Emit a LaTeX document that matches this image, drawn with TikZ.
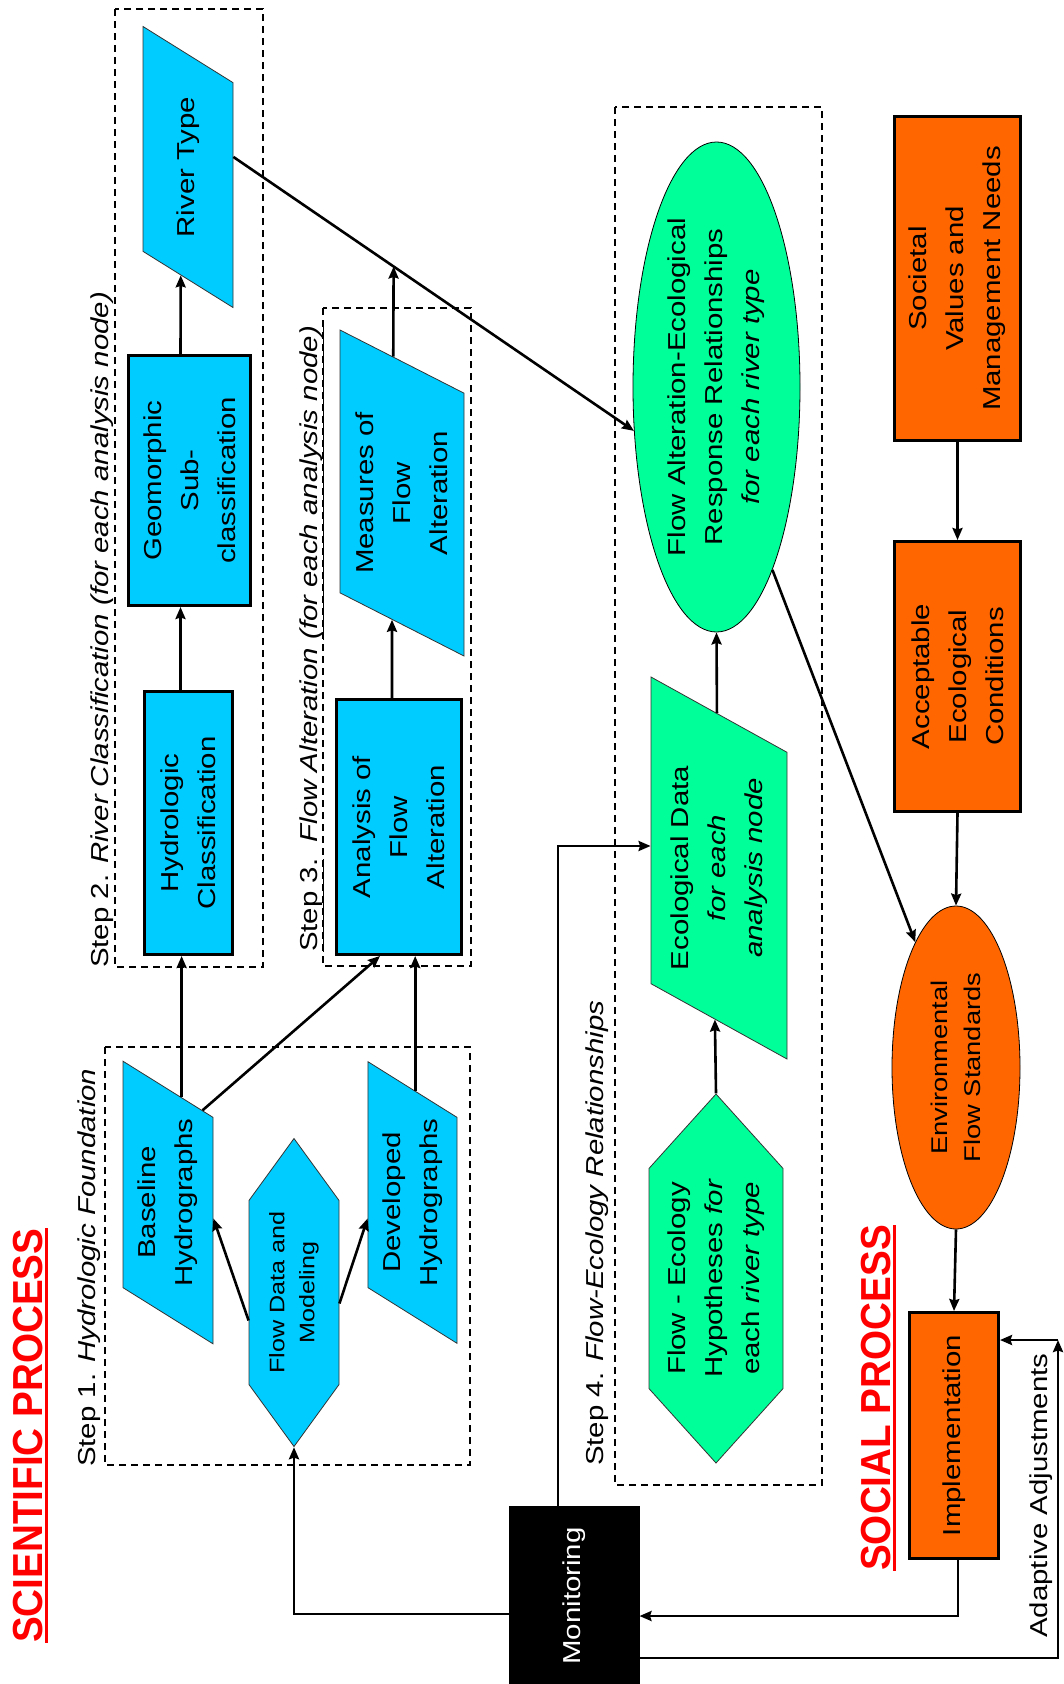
\documentclass[tikz,border=0pt]{standalone}
\usepackage{fontspec}
\setmainfont{Liberation Sans}[FakeStretch=1.2]
\newfontfamily\headfont{Liberation Sans}[FakeStretch=0.92]
\usepackage{xcolor}
\usepackage{tikz}
\usetikzlibrary{shapes.geometric, shapes.symbols, arrows, arrows.meta, positioning, calc}

\definecolor{skyblue}{RGB}{0,204,255}
\definecolor{springgreen}{RGB}{0,255,153}
\definecolor{socialorange}{RGB}{255,102,0}

% thick underline for the two process titles
\newcommand\headunderline[1]{\vtop{\hbox{#1}\kern2.5pt\hrule height 3pt}}

\begin{document}
\begin{tikzpicture}[x=1pt, y=-1pt, font=\fontsize{24.5}{37}\selectfont]
	\tikzstyle{box} = [rectangle, rotate=90, align=center, draw=black, line width=3pt, inner sep=2pt]
	\tikzstyle{hydrobox} = [box, fill=skyblue]
	\tikzstyle{socialbox} = [box, fill=socialorange]
	\tikzstyle{slanted} = [trapezium, rotate=90, align=center, draw=black!80, line width=0.8pt, trapezium stretches body, inner xsep=1pt]
	\tikzstyle{hexa} = [signal, signal to=east and west, rotate=90, align=center, draw=black!80, line width=0.8pt, inner sep=1pt]
	\tikzstyle{oval} = [ellipse, rotate=90, align=center, draw=black, line width=0.8pt, inner sep=0pt]
	\tikzstyle{arrow} = [line width=2.6pt, -{Stealth[length=12pt, width=10pt, inset=1.5pt]}]
	\tikzstyle{stepframe} = [line width=1.3pt, dash pattern=on 7pt off 5pt]
	\tikzstyle{steplabel} = [rotate=90, anchor=base west, inner sep=0pt]
	\tikzstyle{headline} = [steplabel, text=red, font=\headfont\bfseries\fontsize{42}{46}\selectfont]
	
	\useasboundingbox (0,0) rectangle (1064,1684);
	
	% Step frames
	\draw [stepframe] (105,1047) rectangle (470,1465);
	\draw [stepframe] (115,9) rectangle (263,967);
	\draw [stepframe] (323,308) rectangle (471,966);
	\draw [stepframe] (615,107) rectangle (822,1485);
	
	% Labels
	\node (sci) [headline] at (42,1643) {\headunderline{SCIENTIFIC PROCESS}};
	\node (soc2) [headline] at (890,1571) {\headunderline{SOCIAL PROCESS}};
	\node (step1) [steplabel] at (95,1467) {Step 1. \textit{Hydrologic Foundation}};
	\node (step2) [steplabel] at (108,968) {Step 2. \textit{River Classification (for each analysis node)}};
	\node (step3) [steplabel] at (317,952) {\underline{Step 3.}\ \ \textit{Flow Alteration} \underline{\textit{(for each analysis node)}}};
	\node (step4) [steplabel] at (603,1466) {Step 4. \textit{Flow-Ecology Relationships}};
	\node (adjlabel) [steplabel] at (1047,1638) {Adaptive Adjustments};
	
	% Step 1 nodes
	\node (fdm) [hexa, fill=skyblue, signal pointer angle=72, minimum width=308pt, minimum height=90pt, font=\fontsize{21}{30}\selectfont] at (294,1292.5) {Flow Data and\\Modeling};
	\node (base) [slanted, fill=skyblue, trapezium left angle=58, trapezium right angle=122, inner ysep=15pt, minimum width=280pt, minimum height=90pt] at (168,1202.5) {Baseline\\Hydrographs};
	\node (devel) [slanted, fill=skyblue, trapezium left angle=58, trapezium right angle=122, inner ysep=14.6pt, minimum width=280pt, minimum height=89pt] at (412.5,1202.5) {Developed\\Hydrographs};
	
	% Step 2 nodes
	\node (hyd) [hydrobox, minimum width=263pt, minimum height=88pt] at (188.5,823) {Hydrologic\\Classification};
	\node (geo) [hydrobox, minimum width=250pt, minimum height=122pt] at (189.5,480.5) {Geomorphic\\Sub-\\classification};
	\node (rtype) [slanted, fill=skyblue, trapezium left angle=58, trapezium right angle=122, inner ysep=33.5pt, minimum width=281pt, minimum height=90pt] at (188,167) {River Type};
	
	% Step 3 nodes
	\node (anal) [hydrobox, minimum width=255pt, minimum height=125pt] at (399,827) {Analysis of\\Flow\\Alteration};
	\node (meas) [slanted, fill=skyblue, trapezium left angle=63, trapezium right angle=117, inner ysep=16pt, minimum width=326pt, minimum height=124pt] at (402,493) {Measures of\\Flow\\Alteration};
	
	% Step 4 nodes
	\node (hyp) [hexa, fill=springgreen, signal pointer angle=84, minimum width=369pt, minimum height=134pt] at (716,1278.5) {Flow - Ecology\\Hypotheses \textit{for}\\each \textit{river type}};
	\node (eco) [slanted, fill=springgreen, trapezium left angle=61, trapezium right angle=119, inner ysep=19.5pt, minimum width=382pt, minimum height=136pt] at (719,868) {Ecological Data\\\textit{for each}\\\textit{analysis node}};
	\node (fae) [oval, fill=springgreen, minimum width=490pt, minimum height=167pt] at (716.5,387) {Flow Alteration-Ecological\\Response Relationships\\\textit{for each river type}};
	
	% Social process nodes
	\node (soc) [socialbox, minimum width=324pt, minimum height=126pt] at (957.5,278.5) {Societal\\Values and\\Management Needs};
	\node (acc) [socialbox, minimum width=270pt, minimum height=126pt] at (957.5,676.5) {Acceptable\\Ecological\\Conditions};
	\node (efs) [oval, fill=socialorange, minimum width=323pt, minimum height=128pt, font=\fontsize{22.75}{33}\selectfont] at (956,1067.5) {Environmental\\Flow Standards};
	\node (impl) [socialbox, minimum width=246pt, minimum height=89pt] at (954,1435.5) {Implementation};
	\node (mon) [box, fill=black, text=white, minimum width=178pt, minimum height=128pt] at (574,1596) {Monitoring};
	
	% Arrows
	\coordinate (b1) at ($(base.top right corner)!0.65!(base.bottom right corner)$);
	\draw [arrow] (b1) -- (b1 |- hyd.west);
	\coordinate (h1) at ($(hyd.east)+(-8,0)$);
	\draw [arrow] (h1) -- (h1 |- geo.west);
	\draw [arrow] ($(geo.east)+(-9,0)$) -- ($(rtype.top left corner)!0.42!(rtype.bottom left corner)$);
	\draw [arrow] ($(rtype.bottom right corner)!0.33!(rtype.bottom left corner)$) -- coordinate[pos=0.4] (jn) (fae.118);
	\draw [arrow] ($(meas.top right corner)!0.43!(meas.bottom right corner)$) -- (jn);
	\draw [arrow] ($(anal.east)+(-7,0)$) -- ($(meas.top left corner)!0.42!(meas.bottom left corner)$);
	\draw [arrow] ($(base.top right corner)!0.88!(base.bottom right corner)$) -- ($(anal.west)+(-19,0)$);
	\coordinate (d1) at ($(devel.top right corner)!0.53!(devel.bottom right corner)$);
	\draw [arrow] (d1) -- (d1 |- anal.west);
	\draw [arrow] ([shift={(0,28)}]fdm.north) -- ([shift={(0,16)}]base.south);
	\draw [arrow] ([shift={(0,11)}]fdm.south) -- ([shift={(0,16)}]devel.north);
	\draw [arrow] ([shift={(0,18)}]mon.north) -| (fdm.west);
	\draw [arrow] ([shift={(-16,0)}]mon.east) |- ([shift={(0,-22)}]eco.north);
	\draw [arrow] (hyp.east) -- ($(eco.top left corner)!0.47!(eco.bottom left corner)$);
	\draw [arrow] ($(eco.top right corner)!0.485!(eco.bottom right corner)$) -- (fae.west);
	\draw [arrow] (fae.197) -- (efs.18);
	\draw [arrow] (soc.west) -- (acc.east);
	\draw [arrow] (acc.west) -- (efs.east);
	\draw [arrow] (efs.west) -- (impl.east);
	\draw [arrow] ([shift={(4,0)}]impl.west) |- ([shift={(0,20)}]mon.south);
	
	% Adaptive loop
	\coordinate (adj) at (1058,1340);
	\draw [arrow] ([shift={(0,62)}]mon.south) -| (adj);
	\draw [arrow] (adj) -- (adj -| impl.south);
	
\end{tikzpicture}
\end{document}
